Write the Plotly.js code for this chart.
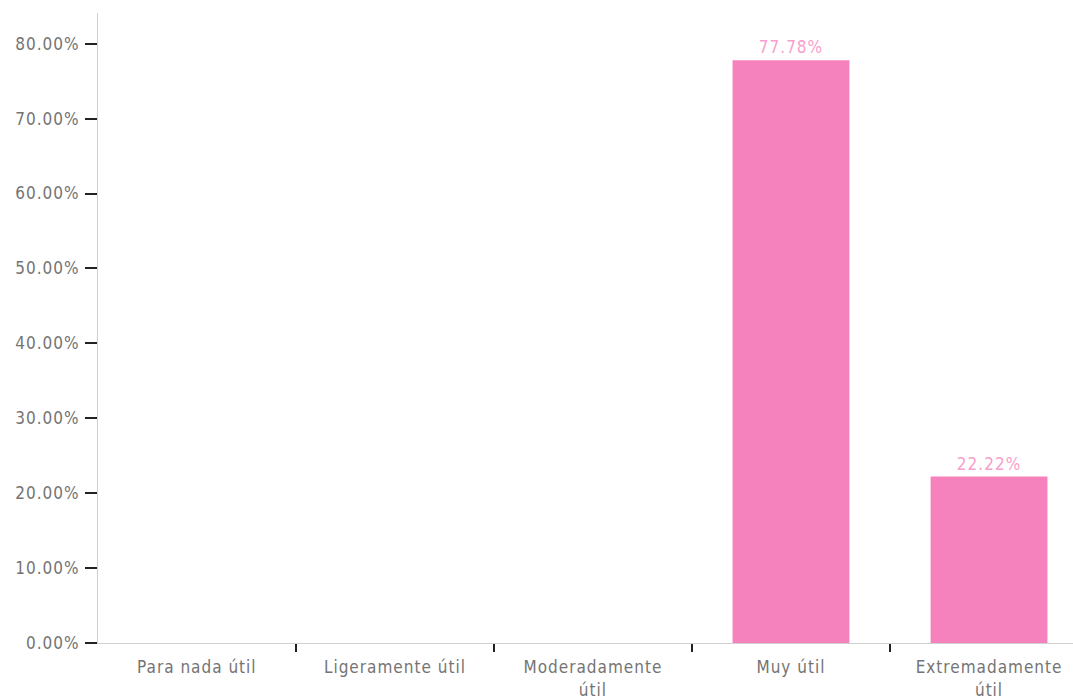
<!DOCTYPE html>
<html>
<head>
<meta charset="utf-8">
<script src="https://cdn.plot.ly/plotly-3.0.1.min.js"></script>
<style>
html,body{margin:0;padding:0;background:#fff;}
#chart{width:1073px;height:698px;}
#chart text{letter-spacing:1px;}
</style>
</head>
<body>
<div id="chart"></div>
<script>
// Respuestas: utilidad percibida (porcentaje de respuestas)
const categories = ["Para nada útil", "Ligeramente útil", "Moderadamente<br>útil", "Muy útil", "Extremadamente<br>útil"];
const values = [0, 0, 0, 77.78, 22.22];
const valueLabels = ["", "", "", "77.78%", "22.22%"];
const yTickVals = [0, 10, 20, 30, 40, 50, 60, 70, 80];
const yTickText = ["0.00%", "10.00%", "20.00%", "30.00%", "40.00%", "50.00%", "60.00%", "70.00%", "80.00%"];

const font = "'DejaVu Sans Condensed', 'Liberation Sans Narrow', sans-serif";

const trace = {
  type: "bar",
  x: categories,
  y: values,
  text: valueLabels,
  textposition: "outside",
  cliponaxis: false,
  textfont: {family: font, size: 17, color: "#F7A0CC"},
  marker: {color: "#F682BD"},
  width: 0.59,
  hoverinfo: "skip"
};

const layout = {
  width: 1073,
  height: 698,
  margin: {l: 98, r: 0, t: 13, b: 55},
  paper_bgcolor: "#ffffff",
  plot_bgcolor: "#ffffff",
  showlegend: false,
  font: {family: font, size: 17, color: "#747474"},
  xaxis: {
    type: "category",
    range: [-0.499, 4.424],
    showline: true,
    linecolor: "#d0d0d0",
    linewidth: 1,
    showgrid: false,
    zeroline: false,
    tickson: "boundaries",
    ticks: "outside",
    ticklen: 8,
    tickwidth: 2,
    tickcolor: "#222222",
    ticklabelstandoff: 9,
    tickfont: {family: font, size: 17, color: "#747474"},
    fixedrange: true
  },
  yaxis: {
    range: [0, 84.1],
    tickvals: yTickVals,
    ticktext: yTickText,
    showline: true,
    linecolor: "#d0d0d0",
    linewidth: 1,
    showgrid: false,
    zeroline: false,
    ticks: "outside",
    ticklen: 12,
    tickwidth: 2,
    tickcolor: "#222222",
    ticklabelstandoff: 2,
    tickfont: {family: font, size: 17, color: "#747474"},
    fixedrange: true
  },
  bargap: 0.41
};

Plotly.newPlot("chart", [trace], layout, {displayModeBar: false, staticPlot: true});
</script>
</body>
</html>
